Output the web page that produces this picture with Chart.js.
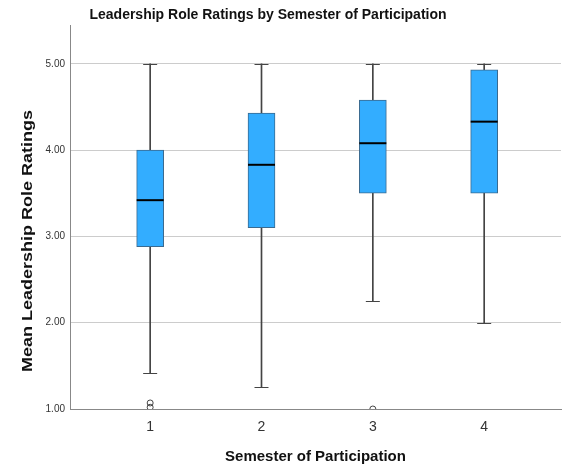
<!DOCTYPE html>
<html>
<head>
<meta charset="utf-8">
<script src="https://cdn.jsdelivr.net/npm/chart.js@4/dist/chart.umd.min.js"></script>
<style>
  html, body { margin: 0; padding: 0; background: #fff; }
  #wrap { width: 566px; height: 466px; }
</style>
</head>
<body>
<div id="wrap"><canvas id="box"></canvas></div>
<script>
const semesters = [1, 2, 3, 4];
const whiskerLow = [1.42, 1.25, 2.25, 2.00];
const q1 = [2.88, 3.10, 3.50, 3.50];
const median = [3.42, 3.83, 4.08, 4.33];
const q3 = [4.00, 4.43, 4.58, 4.93];
const whiskerHigh = [5.00, 5.00, 5.00, 5.00];
const outlierX = [1, 1, 3];
const outlierY = [1.07, 1.02, 1.00];
const yTicks = [1, 2, 3, 4, 5];

const titleText = 'Leadership Role Ratings by Semester of Participation';
const yTitleText = 'Mean Leadership Role Ratings';
const fontFam = '"Liberation Sans", Arial, sans-serif';

// caps, medians and the titles that need their own position
const boxExtras = {
  id: 'boxExtras',
  afterDatasetsDraw(chart) {
    const ctx = chart.ctx;
    const xs = chart.scales.x, ys = chart.scales.y;
    ctx.save();
    semesters.forEach((s, i) => {
      const cx = xs.getPixelForValue(s);
      ctx.strokeStyle = '#444';
      ctx.lineWidth = 1;
      [whiskerLow[i], whiskerHigh[i]].forEach(v => {
        const py = Math.round(ys.getPixelForValue(v)) + 0.5;
        ctx.beginPath();
        ctx.moveTo(cx - 7, py);
        ctx.lineTo(cx + 7, py);
        ctx.stroke();
      });
      const my = ys.getPixelForValue(median[i]);
      ctx.strokeStyle = '#000';
      ctx.lineWidth = 2;
      ctx.beginPath();
      ctx.moveTo(cx - 13.5, my);
      ctx.lineTo(cx + 13.5, my);
      ctx.stroke();
    });
    ctx.restore();
  },
  afterDraw(chart) {
    const ctx = chart.ctx;
    ctx.save();
    ctx.fillStyle = '#111';
    ctx.textAlign = 'center';
    ctx.textBaseline = 'middle';
    ctx.font = 'bold 14px ' + fontFam;
    ctx.fillText(titleText, 268, 15);
    ctx.font = 'bold 15px ' + fontFam;
    ctx.translate(28, 241);
    ctx.rotate(-Math.PI / 2);
    ctx.scale(1.2, 1);
    ctx.fillText(yTitleText, 0, 0);
    ctx.restore();
  }
};

const config = {
  type: 'bar',
  data: {
    datasets: [{
      label: 'Whisker',
      data: semesters.map((s, i) => ({x: s, y: [whiskerLow[i], whiskerHigh[i]]})),
      backgroundColor: '#444',
      barThickness: 1,
      grouped: false,
      order: 3
    }, {
      label: 'Box',
      data: semesters.map((s, i) => ({x: s, y: [q1[i], q3[i]]})),
      backgroundColor: '#33adff',
      borderColor: '#3a6a90',
      borderWidth: 1,
      borderSkipped: false,
      barThickness: 27,
      grouped: false,
      order: 2
    }, {
      type: 'scatter',
      label: 'Outliers',
      data: outlierX.map((x, i) => ({x: x, y: outlierY[i]})),
      pointRadius: 3,
      pointBackgroundColor: 'rgba(0,0,0,0)',
      pointBorderColor: '#444',
      pointBorderWidth: 1,
      order: 1
    }]
  },
  options: {
    responsive: true,
    maintainAspectRatio: false,
    animation: false,
    events: [],
    layout: { padding: { top: 25, right: 0, left: 0, bottom: 0 } },
    plugins: {
      legend: { display: false },
      tooltip: { enabled: false },
      title: { display: false }
    },
    scales: {
      x: {
        type: 'linear',
        offset: false,
        min: 0.28,
        max: 4.69,
        afterBuildTicks: axis => { axis.ticks = semesters.map(v => ({value: v})); },
        afterFit: axis => { axis.height = 57; axis.paddingRight = 0; axis.paddingLeft = 0; },
        grid: { color: 'rgba(0,0,0,0)', drawTicks: false, offset: false },
        border: { color: '#888', width: 1 },
        ticks: {
          color: '#333',
          padding: 10,
          font: { family: fontFam, size: 14 }
        },
        title: {
          display: true,
          text: 'Semester of Participation',
          color: '#111',
          padding: { top: 4, bottom: 0 },
          font: { family: fontFam, size: 15, weight: 'bold' }
        }
      },
      y: {
        min: 1,
        max: 5.45,
        afterBuildTicks: axis => { axis.ticks = yTicks.map(v => ({value: v})); },
        afterFit: axis => { axis.width = 70; axis.paddingTop = 0; axis.paddingBottom = 0; },
        grid: { color: '#cccccc', drawTicks: false },
        border: { color: '#888', width: 1 },
        ticks: {
          color: '#333',
          padding: 5,
          font: { family: fontFam, size: 10 },
          callback: v => v.toFixed(2)
        }
      }
    }
  },
  plugins: [boxExtras]
};

new Chart(document.getElementById('box'), config);
</script>
</body>
</html>
